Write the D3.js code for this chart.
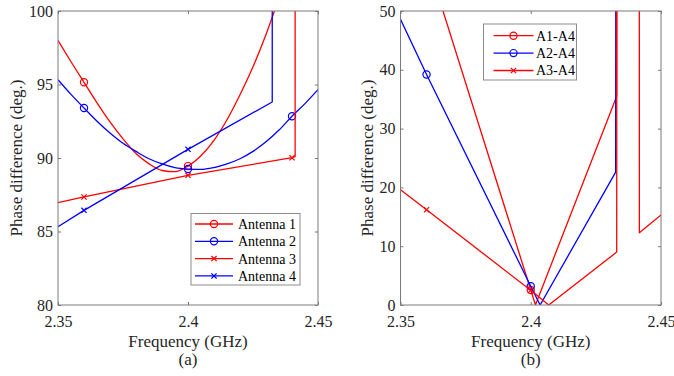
<!DOCTYPE html>
<html>
<head>
<meta charset="utf-8">
<script src="https://cdn.jsdelivr.net/npm/d3@7"></script>
<style>
  html, body { margin: 0; padding: 0; background: #fff; }
  svg { display: block; font-family: "Liberation Serif", "Times New Roman", serif; }
</style>
</head>
<body>
<svg id="chart" width="674" height="376"></svg>
<script>
// ---- Panel (a): phase difference of each antenna ----
const freqTicks = [2.35, 2.4, 2.45];
const phaseTicksA = [80, 85, 90, 95, 100];
const phaseTicksB = [0, 10, 20, 30, 40, 50];
const markerFreqs = [2.36, 2.4, 2.44];

const ant1Freq  = [2.35, 2.355, 2.36, 2.365, 2.37, 2.375, 2.38, 2.385, 2.39, 2.395, 2.4, 2.405, 2.41, 2.415, 2.42, 2.425, 2.43, 2.435];
const ant1Phase = [98.0, 96.55, 95.15, 93.75, 92.45, 91.3, 90.3, 89.6, 89.15, 89.07, 89.45, 90.15, 91.2, 92.6, 94.3, 96.2, 98.4, 100.9];

const ant2Freq  = [2.35, 2.355, 2.36, 2.365, 2.37, 2.375, 2.38, 2.385, 2.39, 2.395, 2.4, 2.405, 2.41, 2.415, 2.42, 2.425, 2.43, 2.435, 2.44, 2.445, 2.45];
const ant2Phase = [95.33, 94.33, 93.4, 92.5, 91.7, 91.0, 90.45, 89.95, 89.6, 89.35, 89.25, 89.22, 89.35, 89.6, 89.95, 90.45, 91.1, 91.9, 92.84, 93.7, 94.65];

const ant3Freq  = [2.35, 2.36, 2.4, 2.44, 2.4412, 2.4413, 2.45];
const ant3Phase = [86.96, 87.35, 88.82, 90.02, 90.1, 270.1, 270.4];

const ant4Freq  = [2.35, 2.36, 2.4, 2.4324, 2.4325, 2.44, 2.45];
const ant4Phase = [85.33, 86.44, 90.59, 93.81, 273.8, 274.5, 275.5];

// ---- Panel (b): phase difference relative to antenna 4 ----
const d14Freq  = [2.36, 2.4, 2.4018, 2.433, 2.4331, 2.45];
const d14Phase = [58.9, 2.55, 0, 35.5, 324.5, 323.0];

const d24Freq  = [2.35, 2.36, 2.4, 2.4036, 2.4326, 2.4331, 2.45];
const d24Phase = [48.6, 39.2, 3.2, 0, 22.6, 337.4, 335.0];

const d34Freq  = [2.35, 2.36, 2.4, 2.4069, 2.433, 2.4331, 2.4416, 2.4417, 2.45];
const d34Phase = [19.6, 16.2, 2.5, 0, 9.0, 171.0, 168.0, 12.3, 15.3];

const RED = "#ff0000", BLUE = "#0000ff";

const panelA = {
  id: "a", box: {x0: 58, x1: 318, y0: 11, y1: 305},
  yDomain: [80, 100], yTicks: phaseTicksA, caption: "(a)", yLabelOffset: 42,
  series: [
    {name: "Antenna 1", f: ant1Freq, v: ant1Phase, color: RED,  marker: "o", smooth: true},
    {name: "Antenna 2", f: ant2Freq, v: ant2Phase, color: BLUE, marker: "o", smooth: true},
    {name: "Antenna 3", f: ant3Freq, v: ant3Phase, color: RED,  marker: "x", smooth: false},
    {name: "Antenna 4", f: ant4Freq, v: ant4Phase, color: BLUE, marker: "x", smooth: false}
  ],
  legend: {x: 191, y: 213.5, w: 109, h: 71.5, row0: 10.5, rowStep: 17.3, lineX0: 4, lineX1: 42, textX: 47, font: 14}
};

const panelB = {
  id: "b", box: {x0: 400.5, x1: 661, y0: 11, y1: 305},
  yDomain: [0, 50], yTicks: phaseTicksB, caption: "(b)", yLabelOffset: 33,
  series: [
    {name: "A1-A4", f: d14Freq, v: d14Phase, color: RED,  marker: "o", smooth: false},
    {name: "A2-A4", f: d24Freq, v: d24Phase, color: BLUE, marker: "o", smooth: false},
    {name: "A3-A4", f: d34Freq, v: d34Phase, color: RED,  marker: "x", smooth: false}
  ],
  legend: {x: 483.5, y: 24, w: 93, h: 56, row0: 11.7, rowStep: 17.4, lineX0: 10, lineX1: 50, textX: 52.5, font: 14}
};

const svg = d3.select("#chart");
const AXIS = "#7a7a7a";

function drawMarker(g, kind, cx, cy, color) {
  if (kind === "o") {
    g.append("circle").attr("cx", cx).attr("cy", cy).attr("r", 3.6)
      .attr("fill", "none").attr("stroke", color).attr("stroke-width", 1.2);
  } else {
    const s = 2.6;
    g.append("path")
      .attr("d", `M${cx - s},${cy - s}L${cx + s},${cy + s}M${cx - s},${cy + s}L${cx + s},${cy - s}`)
      .attr("stroke", color).attr("stroke-width", 1.2).attr("fill", "none");
  }
}

function drawPanel(p) {
  const b = p.box;
  const x = d3.scaleLinear().domain([2.35, 2.45]).range([b.x0, b.x1]);
  const y = d3.scaleLinear().domain(p.yDomain).range([b.y1, b.y0]);

  const clipId = "clip-" + p.id;
  svg.append("clipPath").attr("id", clipId)
    .append("rect").attr("x", b.x0).attr("y", b.y0)
    .attr("width", b.x1 - b.x0).attr("height", b.y1 - b.y0);

  // Axes with inward ticks on all four sides
  const bottom = svg.append("g").attr("transform", `translate(0,${b.y1})`)
    .call(d3.axisBottom(x).tickValues(freqTicks).tickFormat(d => String(d)).tickSizeInner(-3).tickSizeOuter(0).tickPadding(10.5));
  const top = svg.append("g").attr("transform", `translate(0,${b.y0})`)
    .call(d3.axisTop(x).tickValues(freqTicks).tickFormat("").tickSizeInner(-3).tickSizeOuter(0));
  const left = svg.append("g").attr("transform", `translate(${b.x0},0)`)
    .call(d3.axisLeft(y).tickValues(p.yTicks).tickFormat(d => String(d)).tickSizeInner(-3).tickSizeOuter(0).tickPadding(5));
  const right = svg.append("g").attr("transform", `translate(${b.x1},0)`)
    .call(d3.axisRight(y).tickValues(p.yTicks).tickFormat("").tickSizeInner(-3).tickSizeOuter(0));
  [bottom, top, left, right].forEach(a => {
    a.select(".domain").remove();
    a.selectAll(".tick line").attr("stroke", AXIS).attr("stroke-width", 1);
    a.selectAll(".tick text").attr("fill", "#262626").attr("font-size", 16)
      .attr("font-family", "'Liberation Serif', 'Times New Roman', serif");
  });

  // Data lines (clipped to the plotting area)
  const plot = svg.append("g").attr("clip-path", `url(#${clipId})`);
  p.series.forEach(s => {
    const pts = s.f.map((f, i) => [f, s.v[i]]);
    const line = d3.line().x(d => x(d[0])).y(d => y(d[1]))
      .curve(s.smooth ? d3.curveMonotoneX : d3.curveLinear);
    plot.append("path").datum(pts).attr("d", line)
      .attr("fill", "none").attr("stroke", s.color).attr("stroke-width", 1.3)
      .attr("stroke-linejoin", "round");
    markerFreqs.forEach(mf => {
      const i = s.f.findIndex(f => Math.abs(f - mf) < 1e-9);
      if (i < 0) return;
      const v = s.v[i];
      if (v < p.yDomain[0] || v > p.yDomain[1]) return;
      drawMarker(plot, s.marker, x(mf), y(v), s.color);
    });
  });

  // Axes box
  svg.append("rect").attr("x", b.x0).attr("y", b.y0)
    .attr("width", b.x1 - b.x0).attr("height", b.y1 - b.y0)
    .attr("fill", "none").attr("stroke", AXIS).attr("stroke-width", 1);

  // Axis titles and caption
  const cx = (b.x0 + b.x1) / 2;
  svg.append("text").attr("x", cx).attr("y", 346.5).attr("text-anchor", "middle")
    .attr("font-size", 17).attr("fill", "#262626").text("Frequency (GHz)");
  svg.append("text").attr("x", cx).attr("y", 365).attr("text-anchor", "middle")
    .attr("font-size", 17).attr("fill", "#262626").text(p.caption);
  svg.append("text")
    .attr("transform", `translate(${b.x0 - p.yLabelOffset},${(b.y0 + b.y1) / 2}) rotate(-90)`)
    .attr("text-anchor", "middle").attr("dy", "0.35em").attr("font-size", 17).attr("fill", "#262626")
    .text("Phase difference (deg.)");

  // Legend
  const L = p.legend;
  const lg = svg.append("g").attr("transform", `translate(${L.x},${L.y})`);
  lg.append("rect").attr("width", L.w).attr("height", L.h)
    .attr("fill", "#fff").attr("stroke", "#8c8c8c").attr("stroke-width", 1);
  p.series.forEach((s, i) => {
    const ry = L.row0 + i * L.rowStep;
    lg.append("line").attr("x1", L.lineX0).attr("x2", L.lineX1).attr("y1", ry).attr("y2", ry)
      .attr("stroke", s.color).attr("stroke-width", 1.3);
    drawMarker(lg, s.marker, (L.lineX0 + L.lineX1) / 2, ry, s.color);
    lg.append("text").attr("x", L.textX).attr("y", ry).attr("dy", "0.35em")
      .attr("font-size", L.font).attr("fill", "#000").text(s.name);
  });
}

drawPanel(panelA);
drawPanel(panelB);
</script>
</body>
</html>
